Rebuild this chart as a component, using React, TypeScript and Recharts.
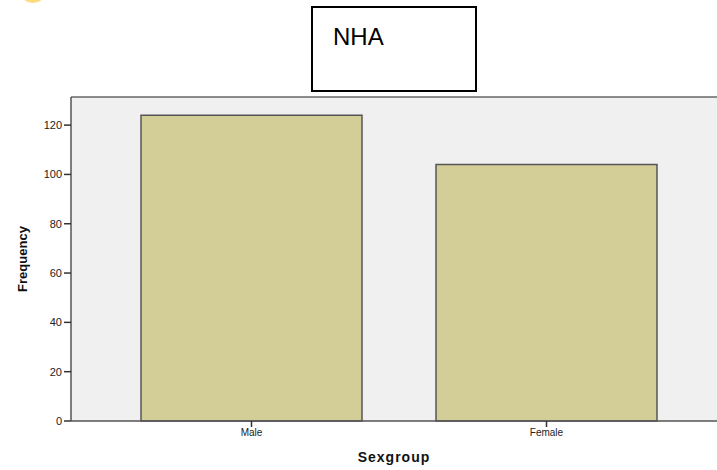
import { BarChart, Bar, XAxis, YAxis, CartesianGrid, ReferenceLine } from 'recharts';

const categories = ['Male', 'Female'];
const frequency = [124, 104];
const yTicks = [0, 20, 40, 60, 80, 100, 120];

const data = categories.map((c, i) => ({ group: c, count: frequency[i] }));

const font = '"Liberation Sans", Arial, sans-serif';

export default function App() {
  return (
    <div style={{ position: 'absolute', left: 0, top: 0, width: 717, height: 470, background: '#fff', overflow: 'hidden', fontFamily: font }}>
      {/* stray yellow blob at the top-left corner of the original */}
      <div style={{ position: 'absolute', left: 19, top: -25, width: 28, height: 28, borderRadius: '50%', background: '#FBDB7C' }} />
      <div
        style={{
          position: 'absolute',
          left: 311,
          top: 6,
          width: 166,
          height: 86,
          border: '2px solid #000',
          fontSize: 24,
          lineHeight: 'normal',
          paddingLeft: 20,
          paddingTop: 15,
          boxSizing: 'border-box',
          color: '#000',
        }}
      >
        NHA
      </div>
      <BarChart width={717} height={470} data={data} margin={{ top: 97, right: 0, bottom: 0, left: 0 }}>
        <CartesianGrid fill="#F0F0F0" horizontal={false} vertical={false} />
        <ReferenceLine y={131.4} stroke="#666" strokeWidth={1.5} />
        <XAxis
          dataKey="group"
          height={49}
          padding={{ left: 33, right: 23 }}
          tickLine={{ stroke: '#333', strokeWidth: 1.5 }}
          tickSize={6}
          axisLine={{ stroke: '#555', strokeWidth: 1.5 }}
          tick={{ fontSize: 10, fill: '#222', fontFamily: font }}
          label={{ value: 'Sexgroup', position: 'insideBottom', offset: 8, style: { fontSize: 14, fontWeight: 'bold', fill: '#111', letterSpacing: 1, fontFamily: font } }}
        />
        <YAxis
          width={71}
          domain={[0, 131.4]}
          ticks={yTicks}
          tickLine={{ stroke: '#333', strokeWidth: 1.5 }}
          tickSize={7}
          axisLine={{ stroke: '#555', strokeWidth: 1.5 }}
          tick={{ fontSize: 11, fill: '#222', fontFamily: font }}
          label={{ value: 'Frequency', angle: -90, position: 'insideLeft', offset: 22, style: { fontSize: 13, fontWeight: 'bold', fill: '#111', textAnchor: 'middle', fontFamily: font } }}
        />
        <Bar dataKey="count" fill="#D3CE97" stroke="#555" strokeWidth={1.5} barSize={221} isAnimationActive={false} />
      </BarChart>
    </div>
  );
}
